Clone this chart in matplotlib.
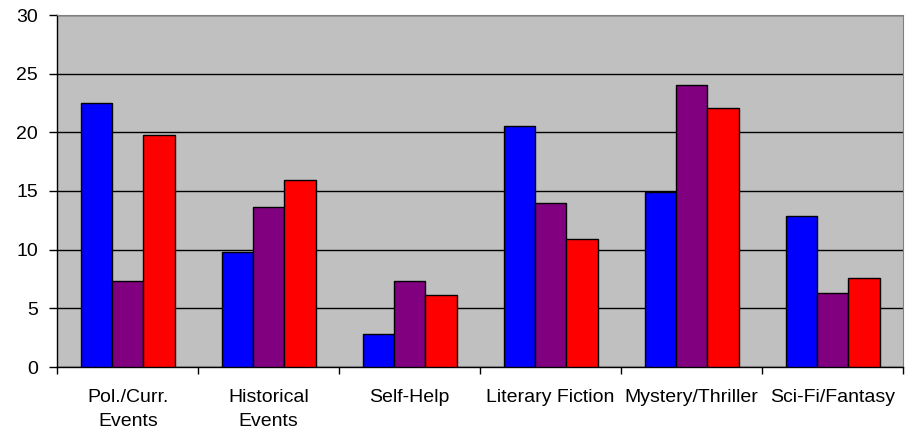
import numpy as np
import matplotlib.pyplot as plt

# Kategorien und Werte
categories = ["Pol./Curr.\nEvents", "Historical\nEvents", "Self-Help",
              "Literary Fiction", "Mystery/Thriller", "Sci-Fi/Fantasy"]
series_blue = [22.5, 9.8, 2.8, 20.5, 14.9, 12.9]
series_purple = [7.3, 13.6, 7.3, 14.0, 24.0, 6.3]
series_red = [19.8, 15.9, 6.1, 10.9, 22.1, 7.6]
y_ticks = [0, 5, 10, 15, 20, 25, 30]

plt.rcParams['font.family'] = ['Liberation Sans', 'DejaVu Sans']

fig = plt.figure(figsize=(9.16, 4.28), dpi=100)
ax = fig.add_axes([57.3 / 916, 1 - 367 / 428, (903 - 57.3) / 916, (367 - 15) / 428])
ax.set_facecolor('#C0C0C0')

x = np.arange(len(categories))
w = 1 / 4.5
for i, (vals, col) in enumerate([(series_blue, '#0000FF'),
                                 (series_purple, '#800080'),
                                 (series_red, '#FF0000')]):
    ax.bar(x + (i - 1) * w, vals, width=w, color=col,
           edgecolor='black', linewidth=1, zorder=3)

ax.set_xlim(-0.5, len(categories) - 0.5)
ax.set_ylim(0, 30)
ax.set_yticks(y_ticks)
ax.yaxis.grid(True, color='black', linewidth=1, zorder=1)
ax.set_axisbelow(True)

# Kategorie-Trennstriche als Ticks
ax.set_xticks(np.arange(len(categories) + 1) - 0.5, minor=False)
ax.set_xticklabels([])
ax.set_xticks(x, minor=True)
ax.set_xticklabels(categories, minor=True, fontsize=14, linespacing=1.5)
ax.tick_params(axis='x', which='minor', length=0, pad=16)
ax.tick_params(axis='x', which='major', direction='out', length=5, width=1)
ax.tick_params(axis='y', direction='out', length=6, width=1, labelsize=14, pad=8)

for side in ['top', 'right']:
    ax.spines[side].set_color('#808080')
for side in ['left', 'bottom']:
    ax.spines[side].set_color('black')
    ax.spines[side].set_linewidth(1)

fig.savefig('out.png', dpi=100)
